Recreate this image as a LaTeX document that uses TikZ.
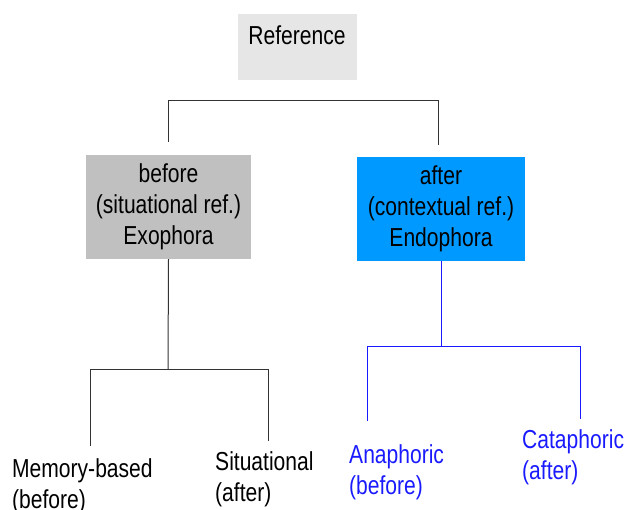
\documentclass[tikz,border=0pt]{standalone}
\usepackage{fontspec}
\setmainfont[FakeStretch=0.81]{Liberation Sans}
\definecolor{refgray}{HTML}{E6E6E6}
\definecolor{boxgray}{HTML}{C0C0C0}
\definecolor{boxblue}{HTML}{0099FF}
\definecolor{txtblue}{HTML}{1A1AFF}
\definecolor{linegray}{HTML}{333333}
\tikzset{
  box/.style={rectangle, inner sep=0pt, draw=none, align=center},
  lbl/.style={inner sep=0pt, align=left, anchor=base west},
  conn/.style={draw=linegray, line width=1pt},
  bconn/.style={draw=txtblue, line width=1pt},
}
\begin{document}
\begin{tikzpicture}[x=1pt, y=-1pt, font=\fontsize{26}{31}\selectfont]
\useasboundingbox (0,0) rectangle (626,509);
% boxes
\node[box, fill=refgray, minimum width=119pt, minimum height=66pt] (refbox) at (297.5,47) {};
\node[inner sep=0pt, anchor=base] (reftxt) at (297,44) {Reference};
\node[box, fill=boxgray, minimum width=165pt, minimum height=104pt] (before) at (168.5,207)
  {before\\(situational ref.)\\Exophora};
\node[box, fill=boxblue, minimum width=168pt, minimum height=104pt] (after) at (441,209)
  {after\\(contextual ref.)\\Endophora};
% labels (anchor = baseline of last line)
\node[lbl] (mem) at (12,508) {Memory-based\\(before)};
\node[lbl] (sit) at (215,501) {Situational\\(after)};
\node[lbl, text=txtblue] (ana) at (349,494) {Anaphoric\\(before)};
\node[lbl, text=txtblue] (cata) at (522,479) {Cataphoric\\(after)};
% connector end points
\coordinate (t1) at (168,142);
\coordinate (t2) at (438,145);
\coordinate (m1) at (90,446);
\coordinate (s1) at (268,441);
\coordinate (a1) at (367,421);
\coordinate (c1) at (580,419);
% connectors
\draw[conn] (t1) -- (168,100) -- (438,100) -- (t2);
\draw[conn] (before.south) -- (168,369);
\draw[conn] (m1) -- (90,369) -- (268,369) -- (s1);
\draw[bconn] (after.south) -- (441,346);
\draw[bconn] (a1) -- (367,346) -- (580,346) -- (c1);
\end{tikzpicture}
\end{document}
